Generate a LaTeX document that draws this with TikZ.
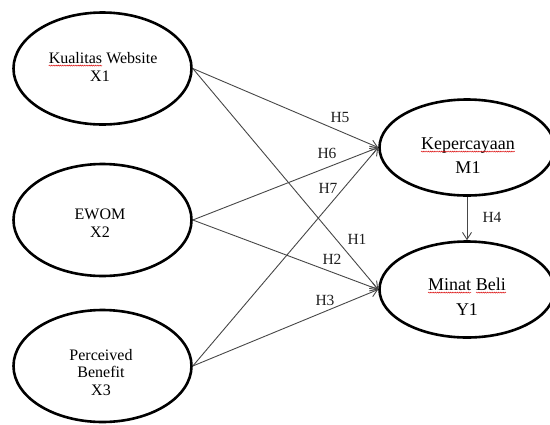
\documentclass[tikz,border=0pt]{standalone}
\usepackage{fontspec}
\setmainfont{Liberation Serif}
\usetikzlibrary{arrows.meta,shapes.geometric,decorations.pathmorphing}
\newcommand\wavyword[1]{\tikz[baseline=(w.base)]{\node[inner sep=0pt,outer sep=0pt](w){#1};\draw[red!85!black,line width=0.45pt,decorate,decoration={snake,amplitude=0.55pt,segment length=2.2pt}]([yshift=-2.6pt]w.base west)--([yshift=-2.6pt]w.base east);}}
\tikzset{
  latent/.style={draw=black,line width=2.6pt,ellipse,inner sep=0pt},
  xvar/.style={latent,minimum width=178pt,minimum height=112pt},
  yvar/.style={latent,minimum width=175pt,minimum height=96pt},
  xtext/.style={font=\fontsize{16}{18}\selectfont,anchor=base,inner sep=0pt},
  ytext/.style={font=\fontsize{18}{22}\selectfont,anchor=base,inner sep=0pt},
  conn/.style={draw=black!72,line width=0.9pt,-{Straight Barb[length=7pt,width=9pt]}},
  hlabel/.style={font=\fontsize{15.5}{18}\selectfont,inner sep=0pt,text=black!88}
}
\begin{document}
\begin{tikzpicture}[x=1pt,y=-1pt]
\useasboundingbox (0,0) rectangle (550,424);
\clip (0,0) rectangle (550,424);
% ellipses
\node[xvar] (x1) at (102.5,68.5) {};
\node[xvar] (x2) at (102.5,220) {};
\node[xvar] (x3) at (102.5,366) {};
\node[yvar] (m1) at (467,147.5) {};
\node[yvar] (y1) at (467,289.5) {};
% texts
\node[xtext] (x1a) at (103,63) {\wavyword{Kualitas} Website};
\node[xtext] (x1b) at (100,81) {X1};
\node[xtext] (x2a) at (100,219) {EWOM};
\node[xtext] (x2b) at (100,237) {X2};
\node[xtext] (x3a) at (101,360) {Perceived};
\node[xtext] (x3b) at (101,377) {Benefit};
\node[xtext] (x3c) at (101,395) {X3};
\node[ytext] (m1a) at (468,149) {\wavyword{Kepercayaan}};
\node[ytext] (m1b) at (468,173) {M1};
\node[ytext] (y1a) at (467,290) {\wavyword{Minat} \wavyword{Beli}};
\node[ytext] (y1b) at (467,315) {Y1};
% connectors
\draw[conn] (x1.east) -- (m1.west);
\draw[conn] (x1.east) -- (y1.west);
\draw[conn] (x2.east) -- (m1.west);
\draw[conn] (x2.east) -- (y1.west);
\draw[conn] (x3.east) -- (m1.west);
\draw[conn] (x3.east) -- (y1.west);
\draw[conn] (m1.south) -- (y1.north);
% labels
\node[hlabel] (h5) at (340,117) {H5};
\node[hlabel] (h6) at (327,153) {H6};
\node[hlabel] (h7) at (328,188) {H7};
\node[hlabel] (h1) at (357,239) {H1};
\node[hlabel] (h2) at (332,259) {H2};
\node[hlabel] (h3) at (325,300) {H3};
\node[hlabel] (h4) at (492,217) {H4};
\end{tikzpicture}
\end{document}
